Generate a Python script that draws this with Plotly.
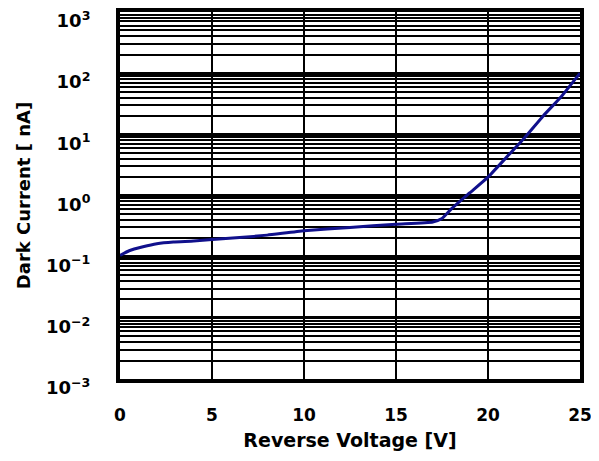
import plotly.graph_objects as go

# Data
voltage = [0, 0.5, 1.25, 2, 2.9, 4, 5, 6.5, 8, 10, 12.5, 15, 17, 17.5, 18, 19, 20, 21, 22, 23, 24, 25]
dark_current = [0.105, 0.125, 0.145, 0.163, 0.174, 0.18, 0.19, 0.205, 0.225, 0.265, 0.30, 0.34, 0.37, 0.42,
                0.6, 1.1, 2.0, 4.2, 8.9, 20, 42, 100]

x_ticks = [0, 5, 10, 15, 20, 25]
y_decades = [-3, -2, -1, 0, 1, 2, 3]
y_tick_labels = ["10<sup>−3</sup>", "10<sup>−2</sup>", "10<sup>−1</sup>", "10<sup>0</sup>",
                 "10<sup>1</sup>", "10<sup>2</sup>", "10<sup>3</sup>"]

y_tickvals = [10 ** d for d in y_decades]
y_minor = [m * 10 ** d for d in y_decades[:-1] for m in range(2, 10)]

font_family = "DejaVu Sans"

fig = go.Figure()
fig.add_trace(go.Scatter(
    x=voltage, y=dark_current, mode="lines",
    line=dict(color="#10108c", width=3, shape="spline", smoothing=0.4),
    showlegend=False,
))

# the page body adds an 8px margin, so the figure is sized to fit within the window
fig.update_layout(
    width=591, height=453,
    margin=dict(l=112, r=19, t=4, b=82),
    paper_bgcolor="white", plot_bgcolor="white",
    font=dict(family=font_family, size=16, color="black"),
)

fig.update_xaxes(
    range=[0, 25], tickvals=x_ticks, ticktext=[f"<b>{t}</b>" for t in x_ticks],
    showgrid=True, gridcolor="black", gridwidth=1.8,
    showline=True, linecolor="black", linewidth=4, mirror=True,
    ticks="outside", ticklen=18, tickcolor="rgba(0,0,0,0)",
    ticklabeloverflow="allow", automargin=False,
    zeroline=False,
    title=dict(text="<b>Reverse Voltage [V]</b>", font=dict(size=19), standoff=10),
    tickfont=dict(size=17),
)

fig.update_yaxes(
    type="log", range=[-3, 3],
    tickvals=y_tickvals, ticktext=[f"<b>{t}</b>" for t in y_tick_labels],
    showgrid=True, gridcolor="black", gridwidth=3,
    minor=dict(tickvals=y_minor, showgrid=True, gridcolor="black", gridwidth=1.5, ticks=""),
    showline=True, linecolor="black", linewidth=4, mirror=True,
    ticks="outside", ticklen=22, tickcolor="rgba(0,0,0,0)",
    ticklabeloverflow="allow", ticklabelshift=9, automargin=False,
    zeroline=False,
    title=dict(text="<b>Dark Current [ nA]</b>", font=dict(size=18), standoff=12),
    tickfont=dict(size=18),
)

fig.write_html("out.html")
